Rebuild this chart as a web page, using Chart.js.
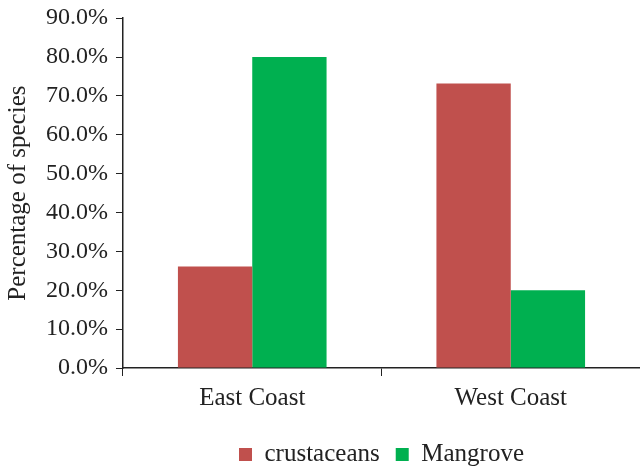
<!DOCTYPE html>
<html>
<head>
<meta charset="utf-8">
<script src="https://cdn.jsdelivr.net/npm/chart.js@4"></script>
<style>
  html, body { margin: 0; padding: 0; background: #fff; }
  #wrap { width: 640px; height: 467px; }
</style>
</head>
<body>
<div id="wrap"><canvas id="chart" width="640" height="467"></canvas></div>
<script>
// Data
const categories = ["East Coast", "West Coast"];
const crustaceans = [26.1, 73.2];
const mangrove = [80.0, 20.0];
const yTicks = [0, 10, 20, 30, 40, 50, 60, 70, 80, 90];

const serif = "'Liberation Serif', 'Times New Roman', serif";

new Chart(document.getElementById("chart"), {
    type: "bar",
    data: {
        labels: categories,
        datasets: [
            { label: "crustaceans", data: crustaceans, backgroundColor: "#C0504D" },
            { label: "Mangrove", data: mangrove, backgroundColor: "#00B050" }
        ]
    },
    options: {
        responsive: false,
        animation: false,
        // negative bottom pushes the legend closer to the canvas edge
        layout: { padding: { top: 0, right: 0, left: 3, bottom: -10 } },
        datasets: { bar: { categoryPercentage: 0.575, barPercentage: 1.0 } },
        plugins: {
            legend: {
                position: "bottom",
                fullSize: false,
                labels: {
                    color: "#222",
                    font: { family: serif, size: 25 },
                    boxWidth: 13, boxHeight: 13, padding: 16
                }
            },
            tooltip: { enabled: false }
        },
        scales: {
            x: {
                grid: { drawOnChartArea: false, drawTicks: true, tickLength: 8, color: "#222", offset: true },
                border: { color: "#222", width: 1.5 },
                ticks: { color: "#222", font: { family: serif, size: 25 }, padding: 7 },
                afterFit: scale => { scale.height += 6; }
            },
            y: {
                min: 0,
                max: 90,
                afterBuildTicks: axis => { axis.ticks = yTicks.map(v => ({ value: v })); },
                grid: { drawOnChartArea: false, drawTicks: true, tickLength: 7, color: "#222" },
                border: { color: "#222", width: 1.5 },
                ticks: {
                    color: "#222",
                    font: { family: serif, size: 24, lineHeight: 0.85 },
                    padding: 8,
                    callback: v => v.toFixed(1) + "%"
                },
                title: {
                    display: true,
                    text: "Percentage of species",
                    color: "#222",
                    font: { family: serif, size: 25 },
                    padding: { top: 0, bottom: 5 }
                }
            }
        }
    }
});
</script>
</body>
</html>
